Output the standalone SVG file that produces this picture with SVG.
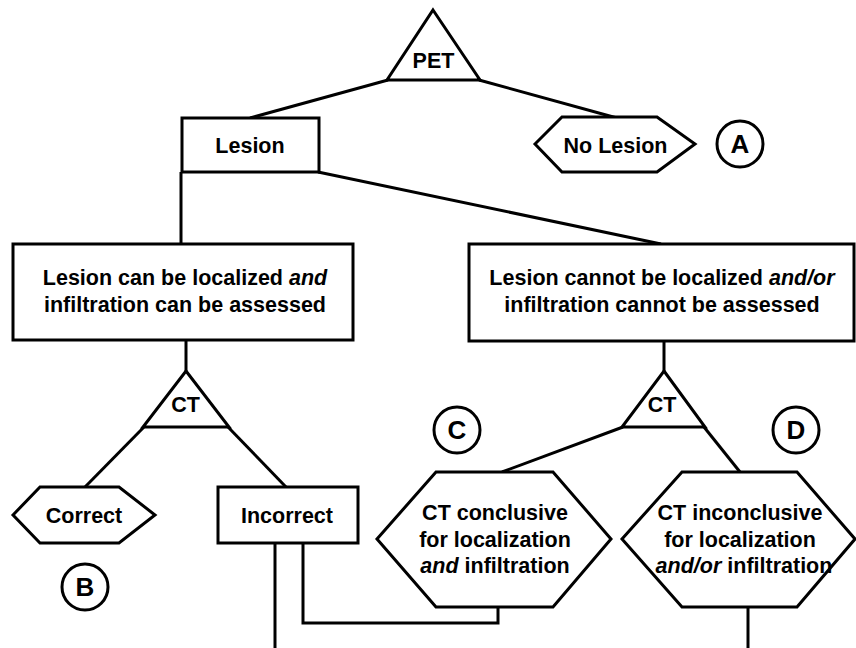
<svg xmlns="http://www.w3.org/2000/svg" width="856" height="648" viewBox="0 0 856 648">
<style>
.s{fill:#fff;stroke:#000;stroke-width:3;stroke-linejoin:miter}
.c{fill:none;stroke:#000;stroke-width:3}
.t{font-family:"Liberation Sans",Arial,sans-serif;font-weight:bold;font-size:21.5px;text-anchor:middle;fill:#000}
.L{font-family:"Liberation Sans",Arial,sans-serif;font-weight:bold;font-size:26px;text-anchor:middle;fill:#000}
.i{font-style:italic}
</style>
<rect width="856" height="648" fill="#fff"/>
<g id="connectors">
<line class="c" x1="388" y1="80" x2="250" y2="118"/>
<line class="c" x1="479" y1="80" x2="617" y2="118"/>
<line class="c" x1="181" y1="172" x2="181" y2="244"/>
<line class="c" x1="318" y1="172" x2="661" y2="244"/>
<line class="c" x1="186" y1="340" x2="186" y2="372"/>
<line class="c" x1="664" y1="341" x2="664" y2="372"/>
<line class="c" x1="144" y1="427" x2="85" y2="487"/>
<line class="c" x1="228" y1="427" x2="286" y2="487"/>
<line class="c" x1="623" y1="427" x2="502" y2="472"/>
<line class="c" x1="704" y1="427" x2="740" y2="472"/>
<line class="c" x1="275" y1="543" x2="275" y2="648"/>
<polyline class="c" points="303,543 303,623 498,623 498,607"/>
<line class="c" x1="748" y1="607" x2="748" y2="648"/>
</g>
<g id="pet">
<polygon class="s" points="433,10 480,80 387,80"/>
<text class="t" x="433.5" y="68">PET</text>
</g>
<g id="lesion">
<rect class="s" x="182" y="118" width="137" height="54"/>
<text class="t" x="250" y="153">Lesion</text>
</g>
<g id="nolesion">
<polygon class="s" points="535,144 562,117 657,117 695,144 657,172 562,172"/>
<text class="t" x="615.5" y="153">No Lesion</text>
</g>
<g id="labelA">
<circle class="s" cx="740" cy="144" r="23"/>
<text class="L" x="740" y="153">A</text>
</g>
<g id="localized">
<rect class="s" x="13" y="244" width="340" height="96"/>
<text class="t" x="185" y="285">Lesion can be localized <tspan class="i">and</tspan></text>
<text class="t" x="185" y="312">infiltration can be assessed</text>
</g>
<g id="notlocalized">
<rect class="s" x="469" y="244" width="385" height="97"/>
<text class="t" x="662" y="285">Lesion cannot be localized <tspan class="i">and/or</tspan></text>
<text class="t" x="662" y="312">infiltration cannot be assessed</text>
</g>
<g id="ct1">
<polygon class="s" points="186,371 229,427 143,427"/>
<text class="t" x="185.5" y="412">CT</text>
</g>
<g id="ct2">
<polygon class="s" points="664,371 705,427 622,427"/>
<text class="t" x="662" y="412">CT</text>
</g>
<g id="correct">
<polygon class="s" points="13,515 40,487 119,487 155,515 119,543 40,543"/>
<text class="t" x="84" y="523">Correct</text>
</g>
<g id="labelB">
<circle class="s" cx="85" cy="587" r="23"/>
<text class="L" x="85" y="596">B</text>
</g>
<g id="incorrect">
<rect class="s" x="218" y="487" width="140" height="56"/>
<text class="t" x="287" y="523">Incorrect</text>
</g>
<g id="labelC">
<circle class="s" cx="457" cy="430" r="23"/>
<text class="L" x="457" y="439">C</text>
</g>
<g id="labelD">
<circle class="s" cx="796" cy="430" r="23"/>
<text class="L" x="796" y="439">D</text>
</g>
<g id="conclusive">
<polygon class="s" points="377,539 436,472 553,472 611,539 553,607 436,607"/>
<text class="t" x="495" y="520">CT conclusive</text>
<text class="t" x="495" y="547">for localization</text>
<text class="t" x="495" y="573"><tspan class="i">and</tspan> infiltration</text>
</g>
<g id="inconclusive">
<polygon class="s" points="622,539 682,472 797,472 855,539 797,607 682,607"/>
<text class="t" x="740" y="520">CT inconclusive</text>
<text class="t" x="740" y="547">for localization</text>
<text class="t" x="744" y="573"><tspan class="i">and/or</tspan> infiltration</text>
</g>
</svg>
